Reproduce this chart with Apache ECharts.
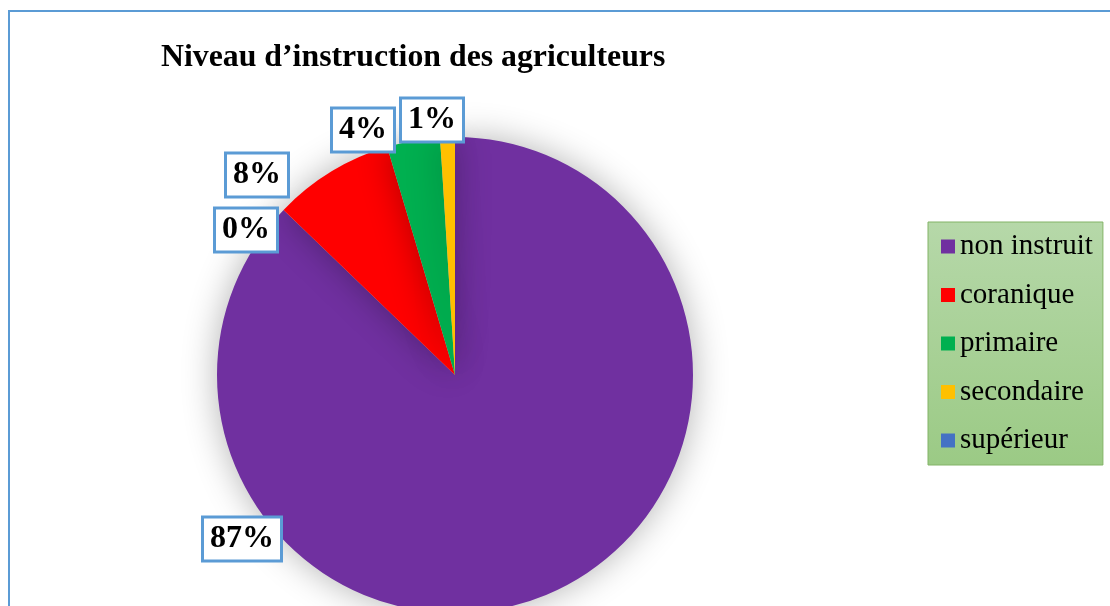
<!DOCTYPE html>
<html>
<head>
<meta charset="utf-8">
<script src="https://cdn.jsdelivr.net/npm/echarts@6/dist/echarts.min.js"></script>
<style>
  html, body { margin: 0; padding: 0; background: #fff; overflow: hidden; }
  #frame { position: absolute; left: 8px; top: 10px; width: 1300px; height: 800px; border: 2px solid #5b9bd5; box-sizing: border-box; }
  #chart { position: absolute; left: 0; top: 0; width: 1110px; height: 606px; }
</style>
</head>
<body>
<div id="frame"></div>
<div id="chart"></div>
<script>
var categories = ['non instruit', 'coranique', 'primaire', 'secondaire', 'supérieur'];
var values = [87.2, 8.2, 3.6, 1.0, 0];
var colors = ['#7030a0', '#ff0000', '#00b050', '#ffc000', '#4472c4'];
// où Excel a posé les étiquettes (centre de la boîte)
var labelPos = [[242, 539], [257, 175], [363, 130], [432, 120], [246, 230]];

var mydata = [];
for (var i = 0; i < categories.length; i++) {
  mydata.push({ name: categories[i], value: values[i] });
}

var chart = echarts.init(document.getElementById('chart'));
chart.setOption({
  color: colors,
  animation: false,
  title: {
    text: 'Niveau d\u2019instruction des agriculteurs',
    left: 156,
    top: 37,
    textStyle: { fontFamily: 'Liberation Serif', fontWeight: 'bold', fontSize: 31.8, color: '#000' }
  },
  legend: {
    orient: 'vertical',
    left: 928,
    top: 222,
    padding: [10, 10, 10, 13],
    itemGap: 19.5,
    itemWidth: 14,
    itemHeight: 14,
    itemTextGap: 10,
    icon: 'rect',
    borderColor: '#82b366',
    borderWidth: 1,
    backgroundColor: new echarts.graphic.LinearGradient(0, 0, 0, 1, [
      { offset: 0, color: '#b6d8a9' },
      { offset: 1, color: '#9bca85' }
    ]),
    textStyle: { fontFamily: 'Liberation Serif', fontSize: 29, lineHeight: 28, color: '#000' },
    data: categories
  },
  series: [{
    type: 'pie',
    center: [455, 375],
    radius: ['0%', 238],
    startAngle: 90,
    clockwise: true,
    stillShowZeroSum: true,
    itemStyle: {
      shadowBlur: 35,
      shadowColor: 'rgba(0,0,0,0.3)'
    },
    label: {
      show: true,
      position: 'outside',
      formatter: function (p) { return Math.round(p.percent) + '%'; },
      fontFamily: 'Liberation Serif',
      fontWeight: 'bold',
      fontSize: 32,
      lineHeight: 32,
      color: '#000',
      backgroundColor: '#fff',
      borderColor: '#5b9bd5',
      borderWidth: 3,
      padding: [6, 6, 3, 6]
    },
    labelLine: { show: false },
    labelLayout: function (params) {
      var p = labelPos[params.dataIndex];
      return { x: p[0], y: p[1], align: 'center', verticalAlign: 'middle', hideOverlap: false };
    },
    emphasis: { disabled: true },
    data: mydata
  }]
});
</script>
</body>
</html>
